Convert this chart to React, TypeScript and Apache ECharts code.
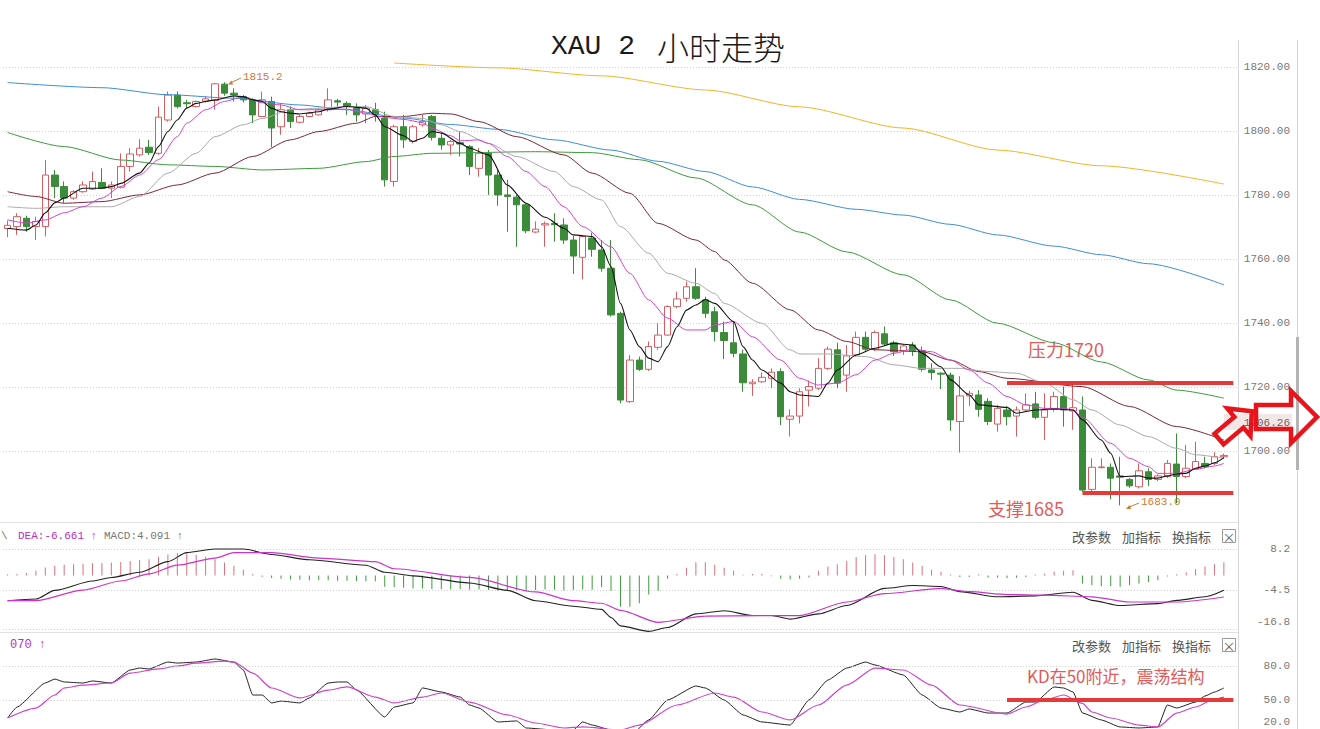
import React, { useEffect, useRef } from 'react';
import * as echarts from 'echarts';

// ---------- data ----------
const slots = Array.from({ length: 131 }, (_, i) => String(i));

// [open, close, low, high]
const candles = [
  [1769.5, 1770.5, 1766.8, 1772.0], [1770.1, 1773.2, 1767.5, 1774.3], [1772.7, 1770.1, 1768.5, 1773.5], [1770.1, 1771.7, 1765.9, 1773.2],
  [1770.1, 1786.2, 1767.0, 1790.9], [1786.2, 1782.6, 1779.0, 1787.8], [1782.6, 1779.0, 1777.5, 1784.2], [1779.0, 1781.0, 1778.5, 1781.5],
  [1781.0, 1783.1, 1780.7, 1784.2], [1781.8, 1784.2, 1781.5, 1787.3], [1783.9, 1782.1, 1781.8, 1788.3], [1782.1, 1783.1, 1779.0, 1784.2],
  [1782.4, 1788.9, 1782.0, 1793.0], [1788.9, 1792.8, 1787.3, 1794.6], [1792.5, 1794.6, 1792.0, 1797.4], [1794.9, 1793.2, 1792.5, 1797.2],
  [1793.0, 1804.3, 1792.5, 1807.6], [1803.4, 1811.2, 1802.9, 1812.3], [1811.2, 1807.6, 1807.0, 1812.3], [1808.8, 1808.5, 1807.0, 1809.7],
  [1807.6, 1809.2, 1807.3, 1809.5], [1809.3, 1810.0, 1808.8, 1810.9], [1809.5, 1814.7, 1806.6, 1815.0], [1814.6, 1811.8, 1811.0, 1815.2],
  [1811.8, 1811.2, 1809.2, 1813.3], [1810.7, 1809.7, 1808.9, 1811.2], [1809.7, 1805.0, 1802.4, 1810.2], [1804.5, 1809.7, 1804.3, 1812.3],
  [1809.2, 1800.9, 1794.9, 1810.7], [1801.3, 1806.6, 1798.8, 1808.6], [1806.6, 1802.9, 1800.9, 1807.6], [1802.7, 1804.5, 1802.3, 1805.0],
  [1804.5, 1805.5, 1804.2, 1806.0], [1805.0, 1806.6, 1804.8, 1807.0], [1806.6, 1809.7, 1806.0, 1813.3], [1809.4, 1809.0, 1807.6, 1810.0],
  [1808.6, 1807.6, 1805.0, 1809.2], [1807.1, 1805.0, 1802.9, 1808.6], [1805.3, 1807.1, 1802.4, 1808.1], [1806.6, 1805.0, 1802.9, 1808.8],
  [1803.9, 1784.7, 1782.6, 1806.0], [1784.2, 1801.3, 1782.6, 1801.9], [1801.3, 1797.2, 1794.6, 1805.0], [1796.7, 1801.3, 1796.1, 1801.9],
  [1801.9, 1802.9, 1801.3, 1805.0], [1804.5, 1798.0, 1797.0, 1805.0], [1797.7, 1795.6, 1794.1, 1799.3], [1795.6, 1796.7, 1792.5, 1797.2],
  [1796.3, 1795.9, 1792.0, 1799.8], [1795.1, 1788.9, 1786.2, 1795.6], [1788.3, 1793.0, 1785.7, 1794.6], [1793.0, 1786.2, 1780.0, 1794.0],
  [1786.2, 1780.0, 1776.6, 1787.8], [1780.0, 1779.5, 1768.5, 1784.7], [1779.3, 1776.9, 1763.8, 1780.0], [1776.9, 1768.8, 1768.0, 1777.5],
  [1768.4, 1769.3, 1768.0, 1771.7], [1770.6, 1771.0, 1763.8, 1771.7], [1771.1, 1770.7, 1765.4, 1774.3], [1770.6, 1765.9, 1764.7, 1772.7],
  [1765.9, 1760.9, 1755.3, 1767.2], [1760.5, 1767.0, 1753.6, 1767.5], [1766.5, 1763.0, 1760.7, 1768.2], [1762.8, 1757.1, 1756.0, 1765.9],
  [1757.1, 1742.5, 1742.0, 1765.9], [1743.0, 1715.9, 1714.9, 1743.5], [1715.4, 1728.4, 1715.0, 1730.0], [1728.4, 1725.5, 1725.0, 1729.5],
  [1725.5, 1732.6, 1725.0, 1734.2], [1732.4, 1736.2, 1731.6, 1739.9], [1736.2, 1745.1, 1736.0, 1745.5], [1745.1, 1747.5, 1744.6, 1749.8],
  [1747.7, 1751.3, 1746.6, 1752.9], [1751.3, 1747.7, 1747.2, 1757.1], [1747.2, 1743.0, 1741.5, 1748.2], [1743.5, 1737.3, 1734.2, 1745.1],
  [1737.0, 1734.5, 1728.7, 1740.4], [1733.8, 1730.5, 1729.3, 1740.4], [1730.3, 1721.3, 1718.5, 1731.6], [1721.0, 1721.5, 1717.2, 1722.4],
  [1721.6, 1723.0, 1721.3, 1724.5], [1722.7, 1724.6, 1719.6, 1725.8], [1724.8, 1710.7, 1708.1, 1725.8], [1709.9, 1710.9, 1704.5, 1713.0],
  [1710.9, 1718.5, 1708.6, 1719.6], [1719.0, 1720.1, 1713.9, 1722.0], [1719.6, 1725.8, 1719.0, 1729.0], [1725.8, 1731.8, 1725.3, 1732.6],
  [1731.6, 1721.2, 1719.6, 1733.8], [1723.7, 1729.7, 1718.5, 1733.1], [1730.0, 1735.5, 1729.4, 1737.3], [1735.5, 1731.8, 1731.0, 1737.3],
  [1731.8, 1737.0, 1731.2, 1737.6], [1736.6, 1733.4, 1732.8, 1738.9], [1733.8, 1731.0, 1729.7, 1734.4], [1731.3, 1732.8, 1730.0, 1733.4],
  [1733.1, 1731.3, 1729.7, 1734.0], [1731.3, 1725.5, 1724.8, 1732.6], [1725.3, 1724.5, 1722.2, 1727.4], [1724.3, 1724.0, 1719.3, 1724.6],
  [1723.7, 1709.7, 1706.3, 1724.5], [1709.2, 1717.2, 1699.5, 1723.4], [1717.2, 1718.0, 1714.0, 1718.8], [1717.5, 1713.0, 1710.7, 1719.0],
  [1715.5, 1709.2, 1708.1, 1716.5], [1708.4, 1713.3, 1706.0, 1714.4], [1712.8, 1710.7, 1708.0, 1714.0], [1710.9, 1712.8, 1704.5, 1713.9],
  [1712.8, 1714.4, 1712.3, 1718.0], [1714.7, 1710.5, 1709.9, 1718.5], [1710.5, 1712.8, 1703.4, 1718.0], [1713.0, 1717.0, 1712.3, 1718.5],
  [1717.0, 1712.8, 1707.6, 1720.1], [1712.5, 1713.5, 1706.6, 1720.6], [1712.8, 1687.8, 1687.3, 1717.0], [1688.0, 1694.9, 1687.5, 1697.7],
  [1694.8, 1695.0, 1694.5, 1697.7], [1694.9, 1691.5, 1684.9, 1696.1], [1692.2, 1691.8, 1683.0, 1698.2], [1691.1, 1689.1, 1688.5, 1691.6],
  [1688.8, 1693.8, 1688.3, 1696.1], [1693.5, 1691.1, 1689.0, 1694.6], [1691.1, 1692.2, 1690.6, 1692.7], [1692.0, 1696.1, 1691.5, 1697.2],
  [1695.9, 1692.0, 1683.7, 1705.5], [1692.0, 1694.6, 1691.5, 1701.9], [1694.3, 1696.7, 1694.0, 1702.9], [1696.1, 1695.1, 1694.5, 1698.2],
  [1696.1, 1698.2, 1695.6, 1699.6], [1698.2, 1698.6, 1697.6, 1699.2],
];

// moving averages, [slot, value]
const ma5 = [[0,1769.6],[2,1769.0],[3,1770.6],[4,1774.4],[5,1777.5],[6,1779.0],[8,1782.1],[10,1782.1],[11,1782.6],[12,1783.6],[14,1786.8],[15,1789.9],[16,1795.1],[17,1799.8],[18,1803.4],[19,1807.1],[20,1808.6],[21,1809.2],[22,1809.7],[24,1810.9],[25,1810.7],[26,1809.7],[27,1809.2],[28,1807.1],[29,1806.0],[30,1805.5],[31,1805.3],[33,1806.0],[34,1806.8],[36,1807.6],[38,1807.1],[39,1805.0],[40,1801.3],[42,1798.5],[43,1796.7],[44,1797.7],[45,1799.8],[46,1799.3],[48,1796.1],[49,1794.6],[51,1792.5],[53,1783.1],[55,1777.4],[57,1773.0],[59,1769.6],[60,1767.5],[62,1767.0],[63,1763.8],[64,1757.6],[65,1746.1],[66,1737.8],[67,1732.6],[68,1729.0],[69,1727.9],[70,1732.6],[71,1738.8],[72,1744.0],[73,1745.6],[74,1747.3],[75,1746.1],[77,1740.4],[78,1732.6],[79,1728.4],[80,1725.3],[82,1721.2],[83,1718.5],[84,1717.5],[86,1717.0],[87,1721.2],[88,1725.3],[90,1730.0],[92,1732.1],[94,1733.6],[96,1733.1],[97,1730.5],[99,1726.3],[100,1722.2],[102,1717.5],[103,1714.4],[106,1713.6],[107,1711.8],[109,1712.8],[111,1713.1],[113,1712.8],[114,1709.7],[116,1703.4],[117,1699.3],[118,1692.0],[120,1692.2],[121,1691.5],[122,1691.5],[123,1692.2],[124,1692.8],[125,1693.0],[126,1694.6],[127,1695.3],[128,1696.3],[129,1697.9]];
const ma10 = [[0,1772.2],[2,1771.2],[4,1772.2],[6,1774.4],[8,1776.3],[10,1779.0],[12,1782.6],[14,1786.2],[16,1791.0],[18,1798.2],[19,1802.4],[21,1806.6],[23,1809.2],[25,1810.7],[27,1808.8],[29,1808.1],[31,1806.6],[33,1806.6],[36,1806.8],[38,1805.5],[40,1804.2],[42,1803.6],[44,1802.6],[45,1800.8],[47,1798.5],[48,1796.9],[50,1797.2],[51,1796.1],[53,1792.0],[55,1787.3],[57,1782.6],[59,1776.3],[61,1770.1],[64,1763.8],[66,1755.5],[68,1747.2],[70,1741.5],[72,1737.8],[74,1737.8],[75,1739.4],[77,1740.4],[79,1735.7],[82,1728.4],[84,1722.7],[86,1720.6],[88,1721.2],[90,1723.8],[92,1728.4],[94,1730.5],[96,1731.8],[98,1731.0],[100,1728.4],[102,1725.3],[104,1721.2],[106,1717.0],[108,1714.4],[110,1713.3],[112,1713.3],[113,1712.8],[114,1710.5],[117,1702.4],[119,1697.7],[121,1695.1],[122,1693.0],[124,1693.0],[126,1694.3],[128,1695.3],[129,1696.1]];
const ma20 = [[0,1776.3],[3,1775.8],[6,1776.3],[11,1776.3],[14,1779.5],[17,1786.8],[20,1793.0],[22,1798.2],[25,1801.9],[27,1803.9],[30,1806.6],[33,1807.1],[36,1807.6],[38,1807.6],[41,1804.5],[44,1803.9],[46,1801.9],[48,1799.8],[51,1796.1],[54,1792.0],[58,1787.3],[60,1782.6],[63,1778.4],[65,1770.1],[68,1761.8],[70,1755.5],[73,1752.4],[75,1749.2],[76,1746.1],[80,1739.9],[83,1731.6],[84,1730.3],[87,1730.3],[91,1729.5],[94,1726.9],[97,1725.8],[101,1725.8],[104,1724.8],[107,1724.3],[110,1721.2],[113,1716.0],[115,1712.8],[118,1708.1],[121,1704.5],[124,1700.8],[126,1698.8],[129,1697.7]];
const ma30 = [[0,1781.0],[3,1779.5],[6,1777.4],[10,1777.9],[14,1780.0],[18,1783.1],[22,1786.8],[26,1792.0],[30,1797.2],[33,1799.8],[37,1802.4],[39,1804.5],[42,1804.5],[45,1805.5],[47,1805.3],[50,1802.9],[54,1798.2],[59,1792.5],[62,1786.8],[66,1780.5],[69,1771.1],[73,1765.9],[75,1762.3],[76,1759.7],[79,1752.4],[83,1744.1],[86,1737.8],[89,1734.2],[92,1731.6],[97,1731.0],[100,1728.4],[103,1724.8],[106,1722.7],[114,1720.1],[119,1713.9],[124,1707.6],[129,1703.4]];
const ma60 = [[0,1799.5],[6,1795.1],[12,1790.9],[17,1789.4],[22,1788.9],[27,1787.8],[33,1788.3],[38,1790.4],[41,1792.0],[45,1793.0],[56,1793.5],[62,1793.2],[67,1791.0],[73,1785.3],[79,1776.9],[84,1768.4],[89,1762.2],[95,1755.0],[100,1747.2],[105,1739.9],[111,1733.8],[116,1727.8],[121,1722.2],[124,1719.0],[129,1716.5]];
const ma120 = [[0,1815.1],[10,1813.5],[17,1811.3],[24,1810.2],[31,1808.1],[36,1806.6],[42,1804.0],[47,1802.0],[52,1800.5],[58,1797.2],[64,1794.0],[69,1790.5],[74,1787.3],[79,1782.5],[84,1778.6],[90,1775.5],[95,1773.7],[100,1770.8],[105,1767.5],[111,1764.0],[116,1761.3],[121,1758.5],[129,1751.9]];
const ma250 = [[41,1821.2],[52,1819.7],[63,1817.2],[74,1812.8],[84,1807.5],[95,1800.9],[105,1794.0],[116,1789.1],[129,1783.4]];

// MACD
const macdBars = [0.4,0.5,0.8,1.5,2.5,3.0,3.3,3.5,3.6,3.8,3.9,4.0,4.2,4.5,4.8,5.0,5.8,6.5,7.0,6.8,6.4,5.8,5.0,4.0,3.0,1.8,0.5,-0.4,-0.8,-1.0,-1.2,-1.3,-1.5,-1.5,-1.5,-1.6,-1.6,-1.7,-1.8,-1.8,-3.5,-3.6,-3.8,-4.0,-4.0,-4.2,-4.2,-4.3,-4.2,-4.4,-4.3,-4.5,-4.7,-4.8,-4.6,-4.9,-4.5,-4.3,-4.4,-4.6,-4.5,-4.3,-4.4,-3.6,-4.7,-9.7,-9.7,-8.6,-5.9,-4.7,-1.0,0.5,2.4,4.1,4.1,3.3,2.4,1.5,0.2,0.5,0.5,-0.2,-1.0,-1.2,-1.0,-0.6,1.5,2.8,3.5,4.5,5.7,6.3,6.6,6.3,5.7,5.0,4.0,3.0,1.8,1.2,0.3,-0.5,-0.5,0.4,-0.6,-0.7,-0.8,-0.7,-0.5,0.3,0.6,1.2,1.5,1.6,-2.5,-3.0,-3.3,-3.3,-3.5,-3.0,-2.5,-2.0,-1.5,-0.3,0.4,1.0,2.0,2.8,3.5,4.1];
const dif = [[0,-7.8],[3,-7.3],[5,-4.6],[9,-1.7],[11,-0.6],[14,1.0],[17,4.3],[19,7.1],[22,8.2],[25,8.2],[28,6.5],[32,4.9],[38,3.2],[40,1.0],[43,-0.1],[49,-2.3],[53,-4.6],[56,-7.8],[60,-9.5],[63,-10.5],[64,-13.0],[65,-15.6],[68,-17.3],[70,-16.1],[73,-11.9],[76,-10.9],[79,-12.4],[81,-12.4],[83,-13.5],[86,-11.9],[89,-9.3],[93,-4.0],[96,-3.1],[99,-3.4],[101,-5.0],[105,-6.6],[109,-6.3],[113,-5.2],[115,-7.7],[118,-9.3],[122,-8.7],[124,-7.7],[127,-6.6],[129,-4.6]];
const dea = [[0,-7.8],[3,-7.8],[8,-4.5],[12,-1.7],[15,0.5],[18,3.2],[22,5.4],[24,7.1],[28,7.1],[33,5.4],[39,4.3],[41,2.1],[49,-0.6],[56,-5.1],[60,-7.8],[63,-8.6],[65,-10.8],[69,-14.5],[74,-12.6],[80,-12.4],[84,-12.4],[89,-8.2],[93,-5.6],[99,-4.0],[102,-5.0],[106,-5.9],[110,-6.1],[115,-6.6],[119,-8.2],[124,-8.2],[129,-6.66]];

// KD
const kLine = [[0,34.1],[1,43.8],[4,65.0],[5,68.5],[6,65.9],[8,65.0],[9,66.8],[11,65.0],[13,76.5],[14,78.2],[15,77.4],[17,83.5],[18,82.6],[20,83.5],[22,86.2],[24,83.5],[25,76.5],[26,54.4],[27,54.4],[28,47.4],[29,49.1],[31,47.4],[32,51.8],[34,65.0],[35,65.9],[36,65.9],[37,58.8],[40,35.0],[41,43.8],[43,47.4],[44,60.6],[46,57.1],[48,52.6],[49,45.6],[50,42.9],[52,30.6],[54,31.5],[55,25.3],[58,23.5],[60,23.5],[61,30.6],[62,27.9],[64,23.5],[65,15.0],[66,18.0],[68,32.4],[70,50.0],[73,62.4],[74,60.6],[76,50.0],[78,36.8],[80,30.6],[83,27.9],[85,50.0],[87,67.6],[89,78.2],[91,83.5],[92,80.9],[95,72.1],[97,54.4],[99,42.9],[101,39.4],[102,42.1],[104,38.5],[106,38.5],[108,48.2],[109,48.2],[111,61.5],[112,60.6],[113,57.1],[114,38.5],[116,32.4],[118,26.2],[120,25.3],[122,26.2],[123,45.6],[124,42.9],[126,48.2],[127,53.5],[128,57.0],[129,60.6]];
const dLine = [[0,34.1],[3,42.9],[5,54.4],[6,60.6],[8,63.2],[11,65.0],[13,73.8],[16,77.4],[18,80.0],[20,82.6],[23,84.4],[24,83.5],[26,73.8],[28,60.6],[31,51.8],[34,58.8],[36,61.5],[39,52.6],[41,47.4],[44,52.6],[46,56.2],[49,48.2],[53,36.8],[56,29.7],[59,25.3],[61,26.2],[65,23.5],[67,27.9],[71,45.6],[75,56.2],[77,52.6],[80,39.4],[83,32.4],[86,45.6],[89,63.2],[92,78.2],[95,76.5],[98,63.2],[101,45.6],[106,37.6],[108,43.8],[110,50.0],[112,54.4],[114,47.0],[115,39.4],[117,34.1],[120,27.9],[122,26.2],[124,38.5],[126,43.8],[128,50.9],[129,52.6]];

const priceTicks = [1700, 1720, 1740, 1760, 1780, 1800, 1820];
const macdTicks = [8.2, -4.5, -16.8];
const kdTicks = [80, 50];
const kdCutTick = 20;

const resistance = 1721.3;
const support = 1686.9;
const kdLevel = 50;
const highMark = 1815.2;
const lowMark = 1683.0;
const lastPrice = 1706.26;

// ---------- styling ----------
const MONO = "'Liberation Mono', 'DejaVu Sans Mono', monospace";
const CJK = "'Noto Sans CJK SC', 'Noto Sans', sans-serif";
const RED = '#e63a3a';
const ANN = '#e25a5a';
const ORANGE = '#cf7b35';

function arrowPoints(cx: number, cy: number, dx: number, dy: number, len: number, sh: number, hh: number, hl: number) {
  const l = Math.hypot(dx, dy);
  const ux = dx / l, uy = dy / l;
  const px = -uy, py = ux;
  const local = [[0, -sh], [len - hl, -sh], [len - hl, -hh], [len, 0], [len - hl, hh], [len - hl, sh], [0, sh]];
  return local.map(([u, v]) => [cx + u * ux + v * px, cy + u * uy + v * py]);
}

function buildOption() {
  const axisLabelBase = { color: '#777', fontSize: 11, fontFamily: MONO, align: 'right', margin: 52 };
  const dotted = { color: '#cccccc', width: 1, type: [1, 2] };
  const gridLines = (ticks: number[]) => ({
    silent: true, symbol: ['none', 'none'], label: { show: false }, lineStyle: dotted, z: 1,
    data: ticks.map((v) => ({ yAxis: v })),
  });
  const line = (data: number[][], color: string, xi: number, width = 1, extra: any = {}) => ({
    type: 'line', data, xAxisIndex: xi, yAxisIndex: xi, symbol: 'none', showSymbol: false,
    connectNulls: true, smooth: 0.25, smoothMonotone: 'x', silent: true, z: 3,
    lineStyle: { color, width }, itemStyle: { color }, ...extra,
  });

  const G: any[] = [];
  // title
  G.push({ type: 'text', x: 551, y: 46, style: { text: 'XAU 2', fontSize: 28, fontFamily: MONO, fill: '#1a1a1a', verticalAlign: 'middle' } });
  G.push({ type: 'text', x: 657, y: 46, style: { text: '小时走势', fontSize: 32, fontFamily: CJK, fontWeight: 300, fill: '#1a1a1a', verticalAlign: 'middle' } });
  // frame lines
  G.push({ type: 'line', shape: { x1: 1238.5, y1: 40, x2: 1238.5, y2: 729 }, style: { stroke: '#d6d6d6', lineWidth: 1 } });
  G.push({ type: 'line', shape: { x1: 0, y1: 522.5, x2: 1238, y2: 522.5 }, style: { stroke: '#e2e2e2', lineWidth: 1 } });
  G.push({ type: 'line', shape: { x1: 0, y1: 632.5, x2: 1238, y2: 632.5 }, style: { stroke: '#e2e2e2', lineWidth: 1 } });
  G.push({ type: 'line', shape: { x1: 1297.5, y1: 40, x2: 1297.5, y2: 729 }, style: { stroke: '#d4d4d4', lineWidth: 1 } });
  G.push({ type: 'rect', shape: { x: 1296, y: 337, width: 3, height: 133 }, style: { fill: '#b4b4b4' } });
  // lowest KD tick label (kept fully inside the page)
  G.push({ type: 'text', x: 1290, y: 722, style: { text: kdCutTick.toFixed(1), fontSize: 11, fontFamily: MONO, fill: '#777', align: 'right', verticalAlign: 'middle' } });
  // MACD header
  G.push({ type: 'text', x: 1, y: 536, style: { text: '\\', fontSize: 11, fontFamily: MONO, fill: '#777', verticalAlign: 'middle' } });
  G.push({ type: 'text', x: 18, y: 536, style: { text: 'DEA:-6.661 ↑', fontSize: 11, fontFamily: MONO, fill: '#c02cc0', verticalAlign: 'middle' } });
  G.push({ type: 'text', x: 104, y: 536, style: { text: 'MACD:4.091 ↑', fontSize: 11, fontFamily: MONO, fill: '#777', verticalAlign: 'middle' } });
  // KD header
  G.push({ type: 'text', x: 10, y: 645, style: { text: '070 ↑', fontSize: 12, fontFamily: MONO, fill: '#c02cc0', verticalAlign: 'middle' } });
  // right-hand panel tools
  [536, 645].forEach((y) => {
    G.push({ type: 'text', x: 1072, y, style: { text: '改参数', fontSize: 13, fontFamily: CJK, fill: '#555', verticalAlign: 'middle' } });
    G.push({ type: 'text', x: 1122, y, style: { text: '加指标', fontSize: 13, fontFamily: CJK, fill: '#555', verticalAlign: 'middle' } });
    G.push({ type: 'text', x: 1172, y, style: { text: '换指标', fontSize: 13, fontFamily: CJK, fill: '#555', verticalAlign: 'middle' } });
    G.push({ type: 'rect', shape: { x: 1222.5, y: y - 6.5, width: 13, height: 13 }, style: { fill: '#fff', stroke: '#9a9a9a', lineWidth: 1 } });
    G.push({ type: 'text', x: 1229, y: y, style: { text: '×', fontSize: 13, fontFamily: CJK, fill: '#666', align: 'center', verticalAlign: 'middle' } });
  });
  // annotations
  G.push({ type: 'text', x: 1028, y: 349, style: { text: '压力1720', fontSize: 18, fontFamily: CJK, fill: ANN, verticalAlign: 'middle' } });
  G.push({ type: 'text', x: 988, y: 508, style: { text: '支撑1685', fontSize: 18, fontFamily: CJK, fill: ANN, verticalAlign: 'middle' } });
  G.push({ type: 'text', x: 1027, y: 675, style: { text: 'KD在50附近，震荡结构', fontSize: 17, fontFamily: CJK, fill: ANN, verticalAlign: 'middle' } });
  // high / low labels
  G.push({ type: 'text', x: 243, y: 77, style: { text: highMark.toFixed(1), fontSize: 11, fontFamily: MONO, fill: ORANGE, verticalAlign: 'middle' } });
  G.push({ type: 'line', shape: { x1: 241, y1: 78, x2: 230, y2: 83 }, style: { stroke: ORANGE, lineWidth: 1 } });
  G.push({ type: 'polygon', shape: { points: [[228, 84.5], [231.5, 80.5], [233, 84.5]] }, style: { fill: ORANGE } });
  G.push({ type: 'text', x: 1141, y: 502, style: { text: lowMark.toFixed(1), fontSize: 11, fontFamily: MONO, fill: ORANGE, verticalAlign: 'middle' } });
  G.push({ type: 'line', shape: { x1: 1139, y1: 503, x2: 1128, y2: 507.5 }, style: { stroke: ORANGE, lineWidth: 1 } });
  G.push({ type: 'polygon', shape: { points: [[1126, 509], [1129.5, 505], [1131, 509]] }, style: { fill: ORANGE } });
  // last price tag
  G.push({ type: 'rect', shape: { x: 1224, y: 414, width: 68, height: 16 }, style: { fill: '#f2e6e6' }, z: 50 });
  G.push({ type: 'text', x: 1290, y: 423, style: { text: lastPrice.toFixed(2), fontSize: 11, fontFamily: MONO, fill: '#666', align: 'right', verticalAlign: 'middle' }, z: 51 });
  // red arrows
  G.push({ type: 'polygon', shape: { points: arrowPoints(1219, 439, 32, -27, 43, 7, 18, 17) }, style: { fill: 'none', stroke: '#e8141c', lineWidth: 4.5, lineJoin: 'miter' }, z: 60 });
  G.push({ type: 'polygon', shape: { points: arrowPoints(1256, 417, 1, 0, 61, 12, 26, 26) }, style: { fill: 'none', stroke: '#e8141c', lineWidth: 4.5, lineJoin: 'miter' }, z: 60 });

  return {
    animation: false,
    backgroundColor: '#fff',
    grid: [
      { left: 2.9, right: 82, top: 40, height: 482 },
      { left: 2.9, right: 82, top: 540, height: 92 },
      { left: 2.9, right: 82, top: 636, height: 93 },
    ],
    xAxis: [0, 1, 2].map((g) => ({ type: 'category', gridIndex: g, data: slots, show: false, boundaryGap: true })),
    yAxis: [
      {
        type: 'value', gridIndex: 0, position: 'right', min: 1677.8, max: 1828.4,
        axisLine: { show: false }, axisTick: { show: false }, splitLine: { show: false },
        axisLabel: { ...axisLabelBase, customValues: priceTicks, formatter: (v: number) => v.toFixed(2) },
      },
      {
        type: 'value', gridIndex: 1, position: 'right', min: -17.5, max: 11,
        axisLine: { show: false }, axisTick: { show: false }, splitLine: { show: false },
        axisLabel: {
          ...axisLabelBase, customValues: macdTicks,
          formatter: (v: number) => (Math.abs(v + 16.8) < 0.01 ? '{low|-16.8}' : v.toFixed(1)),
          rich: { low: { padding: [0, 0, 16, 0], color: '#777', fontSize: 11, fontFamily: MONO } },
        },
      },
      {
        type: 'value', gridIndex: 2, position: 'right', min: 24.4, max: 106.5,
        axisLine: { show: false }, axisTick: { show: false }, splitLine: { show: false },
        axisLabel: { ...axisLabelBase, customValues: kdTicks, formatter: (v: number) => v.toFixed(1) },
      },
    ],
    series: [
      {
        type: 'candlestick', xAxisIndex: 0, yAxisIndex: 0, data: candles, barWidth: 7, silent: true, z: 2,
        itemStyle: { color: '#ffffff', color0: '#3b8b3b', borderColor: '#d65e62', borderColor0: '#3b8b3b', borderWidth: 1 },
        markLine: {
          silent: true, symbol: ['none', 'none'], label: { show: false },
          lineStyle: { color: RED, width: 4, type: 'solid' },
          data: [
            [{ coord: [106, resistance] }, { coord: [130, resistance] }],
            [{ coord: [114, support] }, { coord: [130, support] }],
          ],
        },
      },
      line(ma250, '#f0b428', 0, 1, { markLine: gridLines(priceTicks), z: 3 }),
      line(ma120, '#3d8fd6', 0),
      line(ma60, '#3e9a3e', 0),
      line(ma30, '#7a2836', 0),
      line(ma20, '#a9a9a9', 0),
      line(ma10, '#d044d0', 0),
      line(ma5, '#111111', 0, 1.1),
      {
        type: 'bar', xAxisIndex: 1, yAxisIndex: 1, data: macdBars, barWidth: 1, silent: true,
        itemStyle: { color: (p: any) => (p.value >= 0 ? '#d8707c' : '#3f9a3f') },
      },
      line(dif, '#222222', 1, 1.1),
      line(dea, '#cc33cc', 1, 1.2, { markLine: gridLines(macdTicks) }),
      line(kLine, '#222222', 2, 1, { smooth: 0.15 }),
      line(dLine, '#cc44cc', 2, 1.2, {
        markLine: {
          silent: true, symbol: ['none', 'none'], label: { show: false },
          data: [
            ...kdTicks.map((v) => ({ yAxis: v, lineStyle: dotted })),
            [{ coord: [106, kdLevel], lineStyle: { color: RED, width: 4, type: 'solid' } }, { coord: [130, kdLevel] }],
          ],
        },
      }),
    ],
    graphic: G,
  };
}

export default function App() {
  const ref = useRef<HTMLDivElement>(null);
  useEffect(() => {
    const chart = echarts.init(ref.current!, null, { renderer: 'svg' });
    chart.setOption(buildOption() as any);
    return () => chart.dispose();
  }, []);
  return (
    <div
      ref={ref}
      style={{ position: 'fixed', left: 0, top: 0, width: 1320, height: 729, background: '#fff' }}
    />
  );
}
